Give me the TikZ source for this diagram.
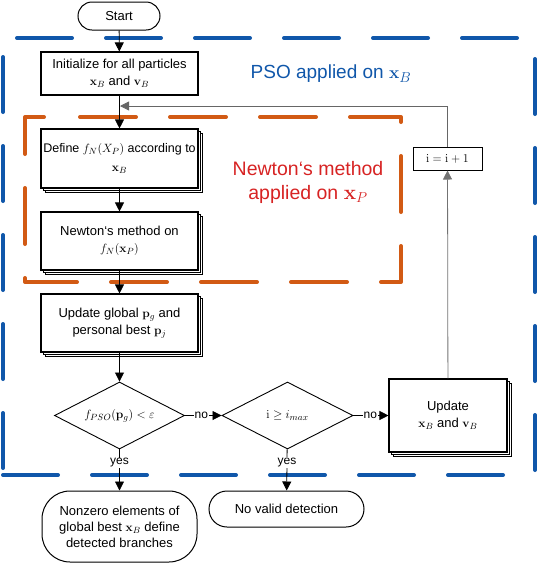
\documentclass[tikz,border=0pt]{standalone}
\usepackage[no-math]{fontspec}
\setmainfont{Liberation Sans}
\usetikzlibrary{shapes.geometric,arrows.meta,shadows}
\definecolor{psoblue}{RGB}{16,87,170}
\definecolor{nworange}{RGB}{210,90,20}
\definecolor{nwred}{RGB}{215,35,35}
\begin{document}
\begin{tikzpicture}[x=1pt,y=-1pt,
  every node/.style={font=\fontsize{13}{17}\selectfont, inner sep=0pt},
  termbox/.style={draw, line width=1pt, fill=white, align=center},
  procbox/.style={draw, line width=1.1pt, fill=white, align=center},
  stackbox/.style={procbox,
    general shadow={shadow xshift=4pt, shadow yshift=-4pt, draw, fill=white, line width=0.8pt},
    general shadow={shadow xshift=2pt, shadow yshift=-2pt, draw, fill=white, line width=0.8pt}},
  decision/.style={draw, diamond, aspect=2, line width=0.9pt, inner sep=0pt, fill=white},
  conn/.style={line width=0.8pt, -{Triangle[length=9pt,width=9pt]}},
  lbl/.style={fill=white, font=\fontsize{12}{14}\selectfont, inner sep=1pt},
  psoline/.style={line width=4pt, psoblue, line cap=round, dash pattern=on 55pt off 34pt},
  nwtline/.style={line width=4pt, nworange, line cap=round, line join=round,
    dash pattern=on 56pt off 34pt, dash phase=57pt}
]
\useasboundingbox (0,0) rectangle (537,563);

% PSO region (blue dashed)
\draw[psoline] (17,38) -- (535,38);
\draw[psoline] (3,57) -- (3,475);
\draw[psoline] (3,475) -- (535,475);
\draw[psoline] (535,59) -- (535,475);

% Newton region (orange dashed)
\draw[nwtline] (47,117) -- (401,117) -- (401,282) -- (25,282) -- (25,117) -- cycle;

% region titles
\node[text=psoblue, font=\fontsize{19}{22}\selectfont] (psotitle) at (331,74) {PSO applied on $\mathbf{x}_B$};
\node[text=nwred, align=center, font=\fontsize{19.5}{24}\selectfont] (nwttitle) at (308,182)
  {Newton‘s method\\applied on $\mathbf{x}_P$};

% nodes
\node[termbox, rounded corners=14pt, minimum width=82pt, minimum height=28pt] (start) at (119,16) {Start};
\node[procbox, minimum width=157pt, minimum height=43pt] (init) at (119.5,73.5)
  {Initialize for all particles\\$\mathbf{x}_B$ and $\mathbf{v}_B$};
\node[stackbox, minimum width=157pt, minimum height=59pt, font=\fontsize{12.5}{19}\selectfont] (define) at (119.5,158.5)
  {Define $f_N(X_P)$ according to\\$\mathbf{x}_B$};
\node[stackbox, minimum width=157pt, minimum height=58pt] (newton) at (119.5,241)
  {Newton‘s method on\\$f_N(\mathbf{x}_P)$};
\node[stackbox, minimum width=157pt, minimum height=58pt] (updg) at (119.5,323)
  {Update global $\mathbf{p}_g$ and\\personal best $\mathbf{p}_j$};
\node[decision, minimum width=130pt, minimum height=67pt] (d1) at (119.5,415.5)
  {$f_{PSO}(\mathbf{p}_g) < \varepsilon$};
\node[decision, minimum width=131pt, minimum height=67pt] (d2) at (287.5,415.5)
  {$\mathrm{i} \geq i_{max}$};
\node[stackbox, minimum width=118pt, minimum height=73pt] (upd) at (448,415.5)
  {Update\\$\mathbf{x}_B$ and $\mathbf{v}_B$};
\node[procbox, line width=1pt, minimum width=69pt, minimum height=23pt] (ibox) at (447.5,158.5)
  {$\mathrm{i} = \mathrm{i} + 1$};
\node[termbox, rounded corners=28pt, minimum width=155pt, minimum height=71pt, font=\fontsize{13}{16}\selectfont] (t1) at (119.5,526.5)
  {Nonzero elements of\\global best $\mathbf{x}_B$ define\\detected branches};
\node[termbox, rounded corners=18pt, minimum width=155pt, minimum height=36pt] (t2) at (286.5,509)
  {No valid detection};

\coordinate (fbc) at (447.5,106);
\coordinate (fbj) at (120,106);

% connectors
\draw[conn] (start) -- (init);
\draw[conn] (init) -- (define);
\draw[conn] (define) -- (newton);
\draw[conn] (newton) -- (updg);
\draw[conn] (updg) -- (d1);
\draw[conn] (d1) -- node[lbl, pos=0.45] {no} (d2);
\draw[conn] (d2) -- node[lbl, pos=0.48] {no} (upd);
\draw[conn] (d1) -- node[lbl, pos=0.33] {yes} (t1);
\draw[conn] (d2) -- node[lbl, pos=0.33] {yes} (t2);
\draw[conn, draw=black!55] (upd) -- (ibox);
\draw[line width=0.8pt, black!60] (ibox.north) -- (fbc);
\draw[conn, draw=black!60] (fbc) -- (fbj);
\end{tikzpicture}
\end{document}
